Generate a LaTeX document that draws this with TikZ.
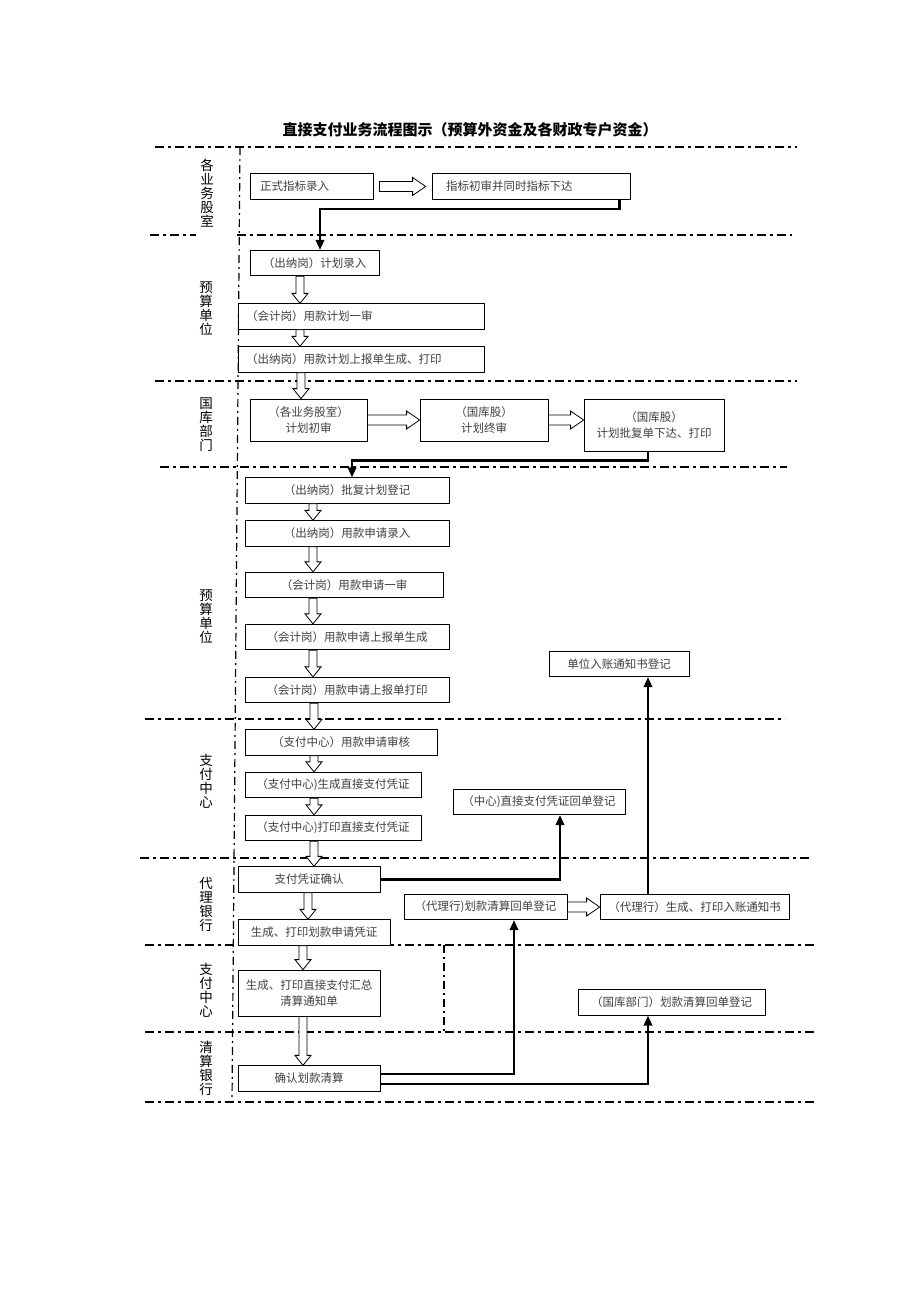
\documentclass[tikz,border=0pt]{standalone}
\usepackage{fontspec}
\setmainfont{Noto Sans CJK SC}
\usetikzlibrary{arrows.meta,calc}
\tikzset{
    %Define standard arrow tip
    >={Triangle[length=10pt,width=8.5pt]},
    %Define style for boxes
    process/.style={
           rectangle,
           draw=black, line width=0.8pt,
           fill=white,
           minimum height=25.5pt,
           inner sep=2pt,
           font=\fontsize{11.5pt}{15.5pt}\selectfont,
           text=black!75,
           align=center},
    lefttext/.style={
           align=left},
    lanelabel/.style={
           align=center,
           inner sep=0pt,
           font=\fontsize{13.5pt}{14pt}\selectfont},
    title/.style={
           font=\fontsize{15pt}{18pt}\selectfont\bfseries},
    % Define line styles
    lane/.style={
           draw=black, line width=1.8pt,
           dash pattern=on 9pt off 4pt on 3pt off 4pt},
    divider/.style={
           draw=black, line width=1.2pt,
           dash pattern=on 8pt off 4pt on 2pt off 4pt},
    % Define arrow styles
    flow/.style={
           ->,
           line width=2.2pt},
    hollow/.style={
           draw=black, line width=0.8pt,
           fill=white}
}
% hollow block arrow downwards: x, upper node, lower node
\newcommand\vblock[3]{%
  \draw[hollow] let \p1=(#2.south), \p2=(#3.north) in
    ({#1pt-4pt},\y1) -- ({#1pt-4pt},{\y2+10pt}) -- ({#1pt-8pt},{\y2+10pt})
    -- (#1pt,\y2) -- ({#1pt+8pt},{\y2+10pt}) -- ({#1pt+4pt},{\y2+10pt})
    -- ({#1pt+4pt},\y1) -- cycle;}
% hollow block arrow to the right: gap, left node, right node
\newcommand\hblock[3][0pt]{%
  \draw[hollow] let \p1=(#2.east), \p2=(#3.west) in
    ({\x1+#1},{\y1+5pt}) -- ({\x2-#1-13pt},{\y1+5pt}) -- ({\x2-#1-13pt},{\y1+9pt})
    -- ({\x2-#1},\y1) -- ({\x2-#1-13pt},{\y1-9pt}) -- ({\x2-#1-13pt},{\y1-5pt})
    -- ({\x1+#1},{\y1-5pt}) -- cycle;}

\begin{document}
\begin{tikzpicture}[x=1pt,y=-1pt]
\useasboundingbox (0,0) rectangle (920,1302);

\node[title] (title) at (470,130) {直接支付业务流程图示（预算外资金及各财政专户资金）};

% swim lanes
\draw[lane] (155,147) -- (797,147);
\draw[lane] (150,235) -- (196,235);
\draw[lane] (237,235) -- (792,235);
\draw[lane] (155,381) -- (797,381);
\draw[lane] (160,467) -- (787,467);
\draw[lane] (145,719) -- (785,719);
\draw[lane] (140,858) -- (812,858);
\draw[lane] (145,945) -- (815,945);
\draw[lane] (145,1032) -- (815,1032);
\draw[lane] (145,1102) -- (815,1102);
\draw[divider] (240,147) -- (232,1102);
\draw[divider] (444,945) -- (444,1032);

\node[lanelabel] (ywgs) at (207,193) {各\\业\\务\\股\\室};
\node[lanelabel] (ysdw1) at (206,309) {预\\算\\单\\位};
\node[lanelabel] (gkbm) at (206,425) {国\\库\\部\\门};
\node[lanelabel] (ysdw2) at (206,617) {预\\算\\单\\位};
\node[lanelabel] (zfzx1) at (206,781) {支\\付\\中\\心};
\node[lanelabel] (dlyh) at (206,904) {代\\理\\银\\行};
\node[lanelabel] (zfzx2) at (206,990) {支\\付\\中\\心};
\node[lanelabel] (qsyh) at (206,1068) {清\\算\\银\\行};

% boxes
\node[process, lefttext, inner xsep=10pt, text width=103pt] (zslr) at (311.5,186.5) {正式指标录入};
\node[process, lefttext, inner xsep=14pt, text width=170pt] (zbcs) at (531,186.5) {指标初审并同时指标下达};
\node[process, minimum width=129pt] (jhlr) at (314.5,263) {（出纳岗）计划录入};
\node[process, lefttext, inner xsep=8pt, text width=230pt] (jhys) at (361,316.5) {（会计岗）用款计划一审};
\node[process, lefttext, inner xsep=8pt, text width=230pt] (jhsb) at (361,359.5) {（出纳岗）用款计划上报单生成、打印};
\node[process, minimum width=117pt, minimum height=42pt] (jhcs) at (308.5,420) {（各业务股室）\\计划初审};
\node[process, minimum width=128pt, minimum height=42pt] (jhzs) at (484,420) {（国库股）\\计划终审};
\node[process, minimum width=140pt, minimum height=52pt] (jhpf) at (654,425) {（国库股）\\计划批复单下达、打印};
\node[process, minimum width=204pt] (pfdj) at (347,490.5) {（出纳岗）批复计划登记};
\node[process, minimum width=204pt] (sqlr) at (347,533.5) {（出纳岗）用款申请录入};
\node[process, minimum width=198pt] (sqys) at (344,585) {（会计岗）用款申请一审};
\node[process, minimum width=204pt] (sbsc) at (347,637) {（会计岗）用款申请上报单生成};
\node[process, minimum width=204pt] (sbdy) at (347,690) {（会计岗）用款申请上报单打印};
\node[process, minimum width=140pt] (rzdj) at (619,664) {单位入账通知书登记};
\node[process, minimum width=192pt] (sqsh) at (341,742.5) {（支付中心）用款申请审核};
\node[process, minimum width=176pt] (pzsc) at (333,785) {（支付中心)生成直接支付凭证};
\node[process, minimum width=176pt] (pzdy) at (333,828) {（支付中心)打印直接支付凭证};
\node[process, minimum width=172pt] (hddj) at (539,802) {（中心)直接支付凭证回单登记};
\node[process, minimum width=142pt] (pzqr) at (309,879.5) {支付凭证确认};
\node[process, minimum width=163pt] (dlhd) at (485.5,907) {（代理行)划款清算回单登记};
\node[process, minimum width=189pt] (rztz) at (694.5,907) {（代理行）生成、打印入账通知书};
\node[process, minimum width=152pt] (hksq) at (314,932.5) {生成、打印划款申请凭证};
\node[process, minimum width=142pt, minimum height=46pt] (hzqs) at (309,993) {生成、打印直接支付汇总\\清算通知单};
\node[process, minimum width=187pt] (gkhd) at (671.5,1002.5) {（国库部门）划款清算回单登记};
\node[process, minimum width=142pt] (hkqs) at (309,1078.5) {确认划款清算};

% hollow arrows
\hblock[6pt]{zslr}{zbcs}
\vblock{300}{jhlr}{jhys}
\vblock{300}{jhys}{jhsb}
\vblock{301}{jhsb}{jhcs}
\hblock{jhcs}{jhzs}
\hblock{jhzs}{jhpf}
\vblock{313}{pfdj}{sqlr}
\vblock{313}{sqlr}{sqys}
\vblock{313}{sqys}{sbsc}
\vblock{313}{sbsc}{sbdy}
\vblock{314}{sbdy}{sqsh}
\vblock{314}{sqsh}{pzsc}
\vblock{314}{pzsc}{pzdy}
\vblock{314}{pzdy}{pzqr}
\vblock{308}{pzqr}{hksq}
\vblock{303}{hksq}{hzqs}
\vblock{303}{hzqs}{hkqs}
\hblock{dlhd}{rztz}

% connectors
\draw[flow] ([xshift=-11pt]zbcs.south east) -- ++(0,9) -| ([xshift=5.5pt]jhlr.north);
\draw[flow] ([xshift=-6pt]jhpf.south) -- ++(0,9) -| ([xshift=5pt]pfdj.north);
\draw[flow] (pzqr.east) -| ([xshift=21pt]hddj.south);
\coordinate (tz) at ([xshift=-46.5pt]rztz.north);
\draw[flow] (tz) -- (tz |- rzdj.south);
\draw[flow] ([yshift=4.5pt]hkqs.east) -| ([xshift=28.5pt]dlhd.south);
\draw[flow] ([yshift=-5.5pt]hkqs.east) -| ([xshift=-23.5pt]gkhd.south);
\end{tikzpicture}
\end{document}
